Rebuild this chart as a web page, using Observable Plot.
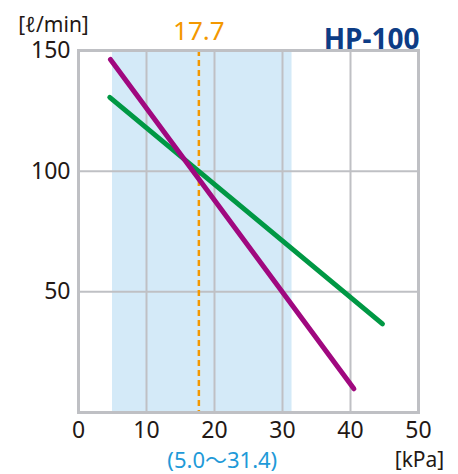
<!DOCTYPE html>
<html><head><meta charset="utf-8">
<script src="https://cdn.jsdelivr.net/npm/d3@7"></script>
<script src="https://cdn.jsdelivr.net/npm/@observablehq/plot@0.6"></script>
<style>
html,body{margin:0;padding:0;background:#fff;}
</style></head><body>
<div id="chart"></div>
<script>
const xTicks = [0, 10, 20, 30, 40, 50];
const yTicks = [50, 100, 150];
const rangeBand = [{x1: 5.0, x2: 31.4}];
const markerX = 17.7;
const greenLine = [{x: 4.6, y: 130.6}, {x: 44.7, y: 36.7}];
const purpleLine = [{x: 4.7, y: 146.3}, {x: 40.5, y: 9.8}];
const title = "HP-100";
const yUnit = "[ℓ/min]";
const xUnit = "[kPa]";
const rangeLabel = "(5.0〜31.4)";

const textColor = "#231815";
const chart = Plot.plot({
  width: 458, height: 474,
  marginLeft: 78, marginRight: 40, marginTop: 50, marginBottom: 62,
  x: {domain: [0, 50], axis: null},
  y: {domain: [0, 150], axis: null},
  style: {fontSize: "24px", fontFamily: '"Noto Sans","Noto Sans CJK JP",sans-serif', color: textColor, overflow: "visible"},
  marks: [
    Plot.rectX(rangeBand, {x1: "x1", x2: "x2", y1: 0, y2: 150, fill: "#d4eaf8"}),
    Plot.gridX([10, 20, 30, 40], {stroke: "#bfc0c4", strokeOpacity: 1, strokeWidth: 2}),
    Plot.gridY([50, 100], {stroke: "#bfc0c4", strokeOpacity: 1, strokeWidth: 2}),
    Plot.ruleX([markerX], {stroke: "#f39800", strokeWidth: 2.5, strokeDasharray: "6,4"}),
    Plot.frame({stroke: "#bfc0c4", strokeWidth: 3}),
    Plot.line(greenLine, {x: "x", y: "y", stroke: "#009844", strokeWidth: 5, strokeLinecap: "round"}),
    Plot.line(purpleLine, {x: "x", y: "y", stroke: "#a0087f", strokeWidth: 5, strokeLinecap: "round"}),
    Plot.text(xTicks, {x: d => d, y: 0, text: d => String(d), dy: 18, fontSize: 23, fill: textColor}),
    Plot.text(yTicks, {x: 0, y: d => d, text: d => String(d), dx: -8, textAnchor: "end", fontSize: 23, fill: textColor}),
    Plot.text([markerX], {x: d => d, y: 150, text: d => d.toFixed(1), dy: -19, fill: "#f39800", fontSize: 26}),
    Plot.text([title], {frameAnchor: "top-right", text: d => d, dy: -21, dx: 1, fill: "#0d3c85", fontSize: 28, fontWeight: "bold", textAnchor: "end"}),
    Plot.text([yUnit], {frameAnchor: "top-left", text: d => d, dy: -33, dx: -25, fill: textColor, fontSize: 21, textAnchor: "middle"}),
    Plot.text(rangeBand, {x: d => (d.x1 + d.x2) / 2, y: 0, text: () => rangeLabel, dy: 48, dx: 20, fill: "#1f9ad8", fontSize: 22}),
    Plot.text([xUnit], {x: 50, y: 0, text: d => d, dy: 48, dx: 1, fill: textColor, fontSize: 21})
  ]
});
document.getElementById("chart").appendChild(chart);
</script>
</body></html>
